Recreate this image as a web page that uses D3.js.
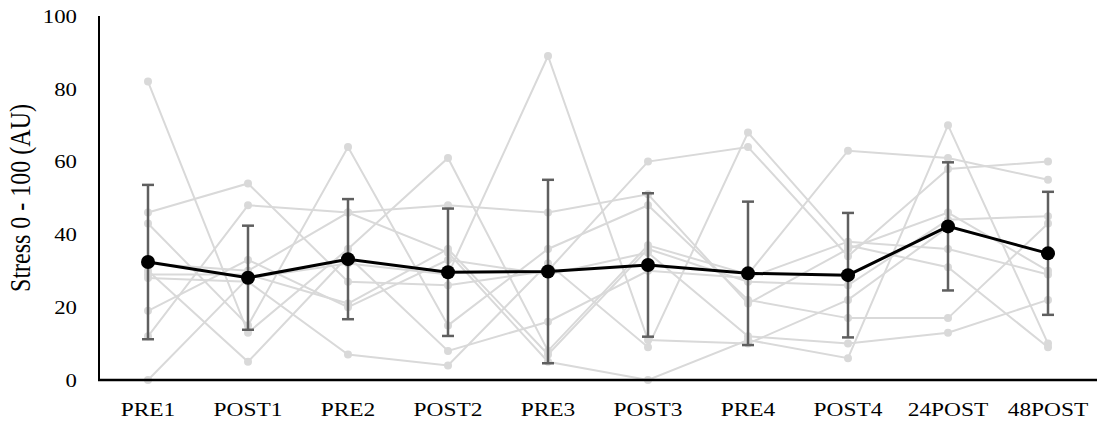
<!DOCTYPE html>
<html>
<head>
<meta charset="utf-8">
<script src="https://cdn.jsdelivr.net/npm/d3@7"></script>
<style>
  html, body { margin: 0; padding: 0; background: #fff; }
  svg { display: block; }
  text { font-family: "Liberation Serif", "Times New Roman", serif; fill: #000; }
</style>
</head>
<body>
<svg id="chart" width="1097" height="427"></svg>
<script>
// Time points
const categories = ["PRE1", "POST1", "PRE2", "POST2", "PRE3", "POST3", "PRE4", "POST4", "24POST", "48POST"];

// Individual participant ratings (0-100)
const s1  = [82, 13, 36, 61,  8, 37, 29, 63, 61, 55];
const s2  = [46, 54, 27, 26, 30, 60, 64, 34, 58, 60];
const s3  = [43, 15, 64, 15, 36, 48, 22, 17, 17, 43];
const s4  = [32, 30, 46, 48, 46, 51, 21, 36, 46, 30];
const s5  = [30,  5, 34,  8, 16, 30, 28, 38, 36, 29];
const s6  = [29, 29, 21, 36,  7, 36, 27, 26, 44, 45];
const s7  = [28, 27,  7,  4, 32,  9, 68, 37, 31,  9];
const s8  = [19, 33, 20, 33, 29, 35, 12, 10, 13, 22];
const s9  = [12, 48, 46, 35,  5,  0, 11,  6, 70, 10];
const s10 = [ 0, 28, 32, 29, 89, 11, 10, 22, 42, 35];
const participants = [s1, s2, s3, s4, s5, s6, s7, s8, s9, s10];

// Group mean and standard deviation
const meanValues = [32.4, 28.1, 33.2, 29.6, 29.8, 31.6, 29.3, 28.8, 42.2, 34.8];
const sdValues   = [21.2, 14.3, 16.5, 17.5, 25.2, 19.7, 19.7, 17.1, 17.6, 16.9];

const yTicks = [0, 20, 40, 60, 80, 100];
const yTitle = "Stress 0 - 100 (AU)";

const svg = d3.select("#chart");
const stretch = 1.2; // horizontal text stretch

const x = d3.scaleBand().domain(categories).range([98, 1098]).padding(0);
const cx = c => x(c) + x.bandwidth() / 2;
const y = d3.scaleLinear().domain([0, 100]).range([380, 16]);

// Individual lines
const line = d3.line().x((d, i) => cx(categories[i])).y(d => y(d));
const indiv = svg.append("g");
participants.forEach(p => {
  indiv.append("path")
    .attr("d", line(p))
    .attr("fill", "none")
    .attr("stroke", "#d9d9d9")
    .attr("stroke-width", 2);
});
participants.forEach(p => {
  indiv.selectAll(null).data(p).enter().append("circle")
    .attr("cx", (d, i) => cx(categories[i]))
    .attr("cy", d => y(d))
    .attr("r", 4)
    .attr("fill", "#d9d9d9");
});

// Error bars (mean ± SD)
const eb = svg.append("g").attr("stroke", "#5f5f5f").attr("stroke-width", 2.5).attr("fill", "none");
meanValues.forEach((m, i) => {
  const px = cx(categories[i]);
  const top = y(m + sdValues[i]), bot = y(m - sdValues[i]);
  eb.append("line").attr("x1", px).attr("x2", px).attr("y1", top).attr("y2", bot);
  eb.append("line").attr("x1", px - 6).attr("x2", px + 6).attr("y1", top).attr("y2", top);
  eb.append("line").attr("x1", px - 6).attr("x2", px + 6).attr("y1", bot).attr("y2", bot);
});

// Axes
const yAxis = d3.axisLeft(y).tickValues(yTicks).tickSize(0).tickFormat(d3.format("d"));
const gy = svg.append("g").attr("transform", "translate(99,0)").call(yAxis);
gy.select(".domain").attr("stroke", "#000").attr("stroke-width", 2).attr("d", `M0,${y(100)}V${y(0)}`);
gy.selectAll(".tick text")
  .attr("x", null).attr("dy", null)
  .style("font-size", "19px")
  .attr("text-anchor", "end")
  .attr("dominant-baseline", "central")
  .attr("transform", `translate(-22,0) scale(${stretch},1)`);

const xAxis = d3.axisBottom(x).tickSize(0);
const gx = svg.append("g").attr("transform", `translate(0,${y(0)})`).call(xAxis);
gx.select(".domain").attr("stroke", "#000").attr("stroke-width", 2.5).attr("d", "M98,0H1097");
gx.selectAll(".tick text")
  .attr("y", null).attr("dy", null)
  .style("font-size", "19.5px")
  .attr("text-anchor", "middle")
  .attr("transform", `translate(0,36) scale(${stretch},1)`);

// Mean line
svg.append("path")
  .attr("d", line(meanValues))
  .attr("fill", "none")
  .attr("stroke", "#000")
  .attr("stroke-width", 3);
svg.append("g").selectAll("circle").data(meanValues).enter().append("circle")
  .attr("cx", (d, i) => cx(categories[i]))
  .attr("cy", d => y(d))
  .attr("r", 7)
  .attr("fill", "#000");

// Y axis title
svg.append("g")
  .attr("transform", `translate(30,${(y(0) + y(100)) / 2}) scale(${stretch},1) rotate(-90)`)
  .append("text")
  .attr("text-anchor", "middle")
  .style("font-size", "24px")
  .text(yTitle);
</script>
</body>
</html>
